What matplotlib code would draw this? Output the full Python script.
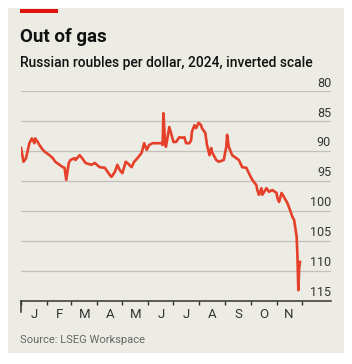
import numpy as np
import pandas as pd
import matplotlib
matplotlib.use("Agg")
import matplotlib.pyplot as plt
from matplotlib.patches import Rectangle

plt.rcParams['font.family'] = ['Roboto', 'DejaVu Sans']

# roubles per dollar
dates = ["2024-01-01", "2024-01-04", "2024-01-07", "2024-01-11", "2024-01-14", "2024-01-17",
         "2024-01-18", "2024-01-21", "2024-01-23", "2024-01-27", "2024-01-30", "2024-02-04",
         "2024-02-08", "2024-02-11", "2024-02-16", "2024-02-20", "2024-02-22", "2024-02-24",
         "2024-02-27", "2024-02-29", "2024-03-05", "2024-03-06", "2024-03-11", "2024-03-14",
         "2024-03-18", "2024-03-25", "2024-03-29", "2024-04-04", "2024-04-10", "2024-04-16",
         "2024-04-18", "2024-04-22", "2024-04-25", "2024-04-28", "2024-05-01", "2024-05-05",
         "2024-05-07", "2024-05-12", "2024-05-15", "2024-05-19", "2024-05-24", "2024-05-27",
         "2024-05-30", "2024-06-02", "2024-06-06", "2024-06-12", "2024-06-17", "2024-06-18",
         "2024-06-19", "2024-06-21", "2024-06-22", "2024-06-26", "2024-06-28", "2024-07-01",
         "2024-07-04", "2024-07-08", "2024-07-12", "2024-07-14", "2024-07-16", "2024-07-20",
         "2024-07-22", "2024-07-23", "2024-07-26", "2024-07-28", "2024-07-31", "2024-08-03",
         "2024-08-04", "2024-08-08", "2024-08-10", "2024-08-13", "2024-08-15", "2024-08-16",
         "2024-08-21", "2024-08-24", "2024-08-30", "2024-09-02", "2024-09-03", "2024-09-05",
         "2024-09-09", "2024-09-14", "2024-09-17", "2024-09-21", "2024-09-26", "2024-09-29",
         "2024-10-03", "2024-10-08", "2024-10-09", "2024-10-11", "2024-10-14", "2024-10-15",
         "2024-10-20", "2024-10-23", "2024-10-27", "2024-11-01", "2024-11-02", "2024-11-04",
         "2024-11-07", "2024-11-10", "2024-11-14", "2024-11-17", "2024-11-20", "2024-11-22",
         "2024-11-25", "2024-11-26", "2024-11-27", "2024-11-28", "2024-11-29"]
rub = [89.5, 91.8, 91.2, 88.7, 87.9, 88.7,
       87.9, 88.5, 89.0, 89.8, 90.2, 90.7,
       91.2, 91.8, 92.3, 92.7, 92.8, 94.8,
       92.0, 91.5, 91.2, 91.5, 90.7, 91.2,
       92.0, 92.3, 92.0, 92.7, 92.8, 94.0,
       94.3, 93.5, 92.3, 93.2, 93.7, 91.8,
       92.0, 92.7, 91.8, 91.2, 90.3, 88.7,
       89.8, 89.0, 88.7, 88.7, 88.7, 89.0,
       83.7, 88.7, 89.3, 86.0, 87.0, 88.5,
       88.5, 87.7, 87.8, 87.7, 88.7, 88.7,
       88.2, 86.8, 85.7, 86.2, 85.3, 85.7,
       86.2, 87.0, 89.0, 90.7, 89.5, 90.2,
       91.5, 91.8, 91.5, 89.3, 87.3, 89.3,
       90.7, 91.2, 91.5, 92.7, 92.8, 93.7,
       94.8, 95.7, 96.5, 97.3, 96.2, 97.3,
       96.2, 96.8, 96.5, 97.0, 97.8, 98.5,
       97.0, 97.7, 98.7, 99.8, 101.0, 101.5,
       104.3, 107.7, 113.2, 109.6, 108.5]

month_starts = pd.date_range("2024-01-01", "2024-12-01", freq="MS")
month_labels = ["J", "F", "M", "A", "M", "J", "J", "A", "S", "O", "N"]
yticks = [80, 85, 90, 95, 100, 105, 110, 115]

bg = "#ecebe4"
red = "#e5402a"

fig = plt.figure(figsize=(3.52, 3.64), dpi=100, facecolor="white")
fig.patches.append(Rectangle((8/352, 11/364), 336/352, 345/364, transform=fig.transFigure,
                             facecolor=bg, edgecolor="none", zorder=-2))
fig.patches.append(Rectangle((20/352, 1 - 13/364), 38/352, 4/364, transform=fig.transFigure,
                             facecolor="#e3120b", edgecolor="none", zorder=-1))

ax = fig.add_axes([21/352, 1 - 301/364, 310/352, 210/364])
ax.set_zorder(1)
ax.patch.set_alpha(0)

ax.plot(pd.to_datetime(dates), rub, color=red, lw=1.9, solid_joinstyle="round", zorder=3)

ax.set_ylim(115, 80)
ax.set_xlim(pd.Timestamp("2024-01-01"), pd.Timestamp("2025-01-05"))

# gridlines and right-hand labels sitting on them
for v in yticks[:-1]:
    ax.axhline(v, color="#c2c1b9", lw=0.9, zorder=1)
for v in yticks:
    ax.text(1.0, v - 0.25, str(v), transform=ax.get_yaxis_transform(), ha="right", va="bottom",
            fontsize=9, color="#333333")

for s in ["top", "right", "left"]:
    ax.spines[s].set_visible(False)
ax.spines["bottom"].set_color("#333333")
ax.spines["bottom"].set_linewidth(1.1)
ax.set_yticks([])

ax.set_xticks(month_starts)
ax.set_xticklabels([])
ax.tick_params(axis="x", which="major", length=3.2, width=1.0, color="#333333")
mids = [month_starts[i] + (month_starts[i + 1] - month_starts[i]) / 2 for i in range(11)]
ax.set_xticks(mids, minor=True)
ax.set_xticklabels(month_labels, minor=True, fontsize=9.5, color="#333333")
ax.tick_params(axis="x", which="minor", length=0, pad=5)
ax.plot([month_starts[0], month_starts[0]], [115, 116.8], color="#333333", lw=1.1, clip_on=False)

fig.text(20/352, 1 - 42/364, "Out of gas", fontsize=13.5, fontweight="bold", color="#111111")
fig.text(20/352, 1 - 67/364, "Russian roubles per dollar, 2024, inverted scale", fontsize=10,
         fontweight="medium", color="#111111")
fig.text(20/352, 1 - 343/364, "Source: LSEG Workspace", fontsize=8, color="#666666")

fig.savefig("out.png", dpi=100, facecolor="white")
